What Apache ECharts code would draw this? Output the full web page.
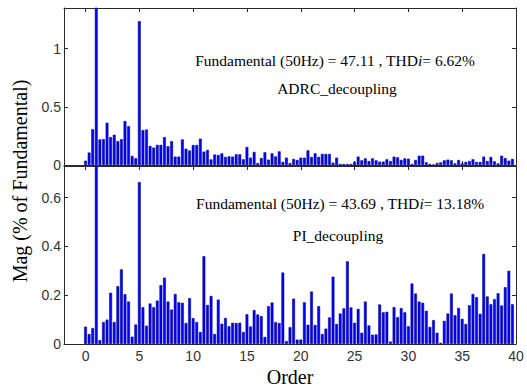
<!DOCTYPE html>
<html>
<head>
<meta charset="utf-8">
<script src="https://cdn.jsdelivr.net/npm/echarts@6/dist/echarts.min.js"></script>
<style>
html,body{margin:0;padding:0;background:#fff;}
#chart{width:527px;height:387px;}
</style>
</head>
<body>
<div id="chart"></div>
<script>
// harmonic orders (step 1/3 of the fundamental), 0 .. 39.67
const harmonicOrders = Array.from({length: 120}, (_, k) => k / 3);

// ADRC_decoupling spectrum, % of fundamental (fundamental = 100, clipped)
const adrcMag = [
  0.037, 0.107, 0.308, 100, 0.22, 0.222, 0.363, 0.24, 0.26, 0.205,
  0.222, 0.378, 0.334, 0.078, 0.058, 1.236, 0.30, 0.305, 0.164, 0.15,
  0.173, 0.173, 0.24, 0.161, 0.205, 0.072, 0.072, 0.22, 0.14, 0.125,
  0.172, 0.172, 0.226, 0.115, 0.13, 0.048, 0.09, 0.086, 0.10, 0.069,
  0.074, 0.072, 0.092, 0.092, 0.049, 0.155, 0.063, 0.112, 0.017, 0.06,
  0.109, 0.046, 0.10, 0.074, 0.117, 0.026, 0.063, 0.017, 0.052, 0.043,
  0.063, 0.063, 0.126, 0.069, 0.10, 0.07, 0.095, 0.095, 0.095, 0.02,
  0.063, 0.009, 0.009, 0.009, 0.009, 0.026, 0.072, 0.04, 0.057, 0.034,
  0.057, 0.04, 0.029, 0.029, 0.049, 0.034, 0.072, 0.066, 0.043, 0.057,
  0.054, 0.009, 0.043, 0.08, 0.08, 0.023, 0.009, 0.003, 0.017, 0.023,
  0.04, 0.046, 0.04, 0.014, 0.043, 0.014, 0.026, 0.034, 0.049, 0.026,
  0.026, 0.072, 0.034, 0.069, 0.032, 0.014, 0.08, 0.06, 0.037, 0.052
];

// PI_decoupling spectrum, % of fundamental
const piMag = [
  0.071, 0.041, 0.065, 100, 0.016, 0.09, 0.10, 0.21, 0.09, 0.237,
  0.306, 0.204, 0.174, 0.03, 0.08, 0.664, 0.151, 0.075, 0.166, 0.151,
  0.178, 0.241, 0.272, 0.174, 0.141, 0.205, 0.171, 0.169, 0.086, 0.188,
  0.106, 0.09, 0.049, 0.36, 0.16, 0.197, 0.041, 0.182, 0.083, 0.107,
  0.073, 0.087, 0.086, 0.087, 0.049, 0.122, 0.072, 0.139, 0.121, 0.114,
  0.029, 0.155, 0.17, 0.09, 0.086, 0.293, 0.012, 0.069, 0.186, 0.018,
  0.018, 0.171, 0.079, 0.215, 0.078, 0.155, 0.041, 0.063, 0.109, 0.276,
  0.082, 0.125, 0.146, 0.339, 0.15, 0.087, 0.144, 0.046, 0.174, 0.076,
  0.038, 0.039, 0.162, 0.13, 0.132, 0.01, 0.151, 0.11, 0.147, 0.13,
  0.073, 0.248, 0.207, 0.174, 0.169, 0.136, 0.07, 0.098, 0.046, 0.005,
  0.095, 0.125, 0.207, 0.118, 0.148, 0.103, 0.082, 0.159, 0.205, 0.192,
  0.124, 0.369, 0.195, 0.163, 0.184, 0.208, 0.158, 0.233, 0.30, 0.163
];

const xTicks = [0, 5, 10, 15, 20, 25, 30, 35, 40];
const topYTicks = [0, 0.5, 1];
const botYTicks = [0, 0.2, 0.4, 0.6];

const topInfo = ['Fundamental (50Hz) = 47.11 , THD', 'i', '= 6.62%'];
const topName = 'ADRC_decoupling';
const botInfo = ['Fundamental (50Hz) = 43.69 , THD', 'i', '= 13.18%'];
const botName = 'PI_decoupling';
const xName = 'Order';
const yName = 'Mag (% of Fundamental)';

const serif = '"Liberation Serif", "Times New Roman", serif';
const sans = '"Liberation Sans", Arial, sans-serif';
const axisCol = '#2a2a2a';

function xAx(grid, pos, labels) {
  return {
    type: 'value', gridIndex: grid, position: pos, min: -2, max: 40,
    axisLine: {show: true, onZero: false, lineStyle: {color: axisCol, width: 1}},
    axisTick: {show: true, inside: true, length: 4, customValues: xTicks, lineStyle: {color: axisCol}},
    axisLabel: labels ? {show: true, customValues: xTicks, color: '#333', fontFamily: sans, fontSize: 14, margin: 5} : {show: false},
    splitLine: {show: false}
  };
}
function yAx(grid, pos, max, ticks, labels) {
  return {
    type: 'value', gridIndex: grid, position: pos, min: 0, max: max,
    axisLine: {show: true, onZero: false, lineStyle: {color: axisCol, width: 1}},
    axisTick: {show: true, inside: true, length: 4, customValues: ticks, lineStyle: {color: axisCol}},
    axisLabel: labels ? {show: true, customValues: ticks, color: '#333', fontFamily: sans, fontSize: 14, margin: 3} : {show: false},
    splitLine: {show: false}
  };
}

const chart = echarts.init(document.getElementById('chart'), null, {renderer: 'svg'});

const barStyle = {color: '#0000f2', borderColor: '#00008c', borderWidth: 0.5};
const richI = {i: {fontStyle: 'italic', fontFamily: serif, fontSize: 15.5}};

chart.setOption({
  animation: false,
  backgroundColor: '#fff',
  grid: [
    {left: 64, top: 8, width: 452, height: 157, show: false, containLabel: false, outerBoundsMode: 'none'},
    {left: 64, top: 166, width: 452, height: 178, show: false, containLabel: false, outerBoundsMode: 'none'}
  ],
  xAxis: [
    xAx(0, 'bottom', false), xAx(0, 'top', false),
    Object.assign(xAx(1, 'bottom', true), {name: xName, nameLocation: 'middle', nameGap: 23,
      nameTextStyle: {fontFamily: serif, fontSize: 20, color: '#000'}}),
    xAx(1, 'top', false)
  ],
  yAxis: [
    yAx(0, 'left', 1.35, topYTicks, true), yAx(0, 'right', 1.35, topYTicks, false),
    yAx(1, 'left', 0.73, botYTicks, true), yAx(1, 'right', 0.73, botYTicks, false)
  ],
  series: [
    {type: 'bar', xAxisIndex: 0, yAxisIndex: 0, barWidth: 2.8, clip: true, itemStyle: barStyle,
     data: harmonicOrders.map((o, i) => [o, adrcMag[i]])},
    {type: 'bar', xAxisIndex: 2, yAxisIndex: 2, barWidth: 2.8, clip: true, itemStyle: barStyle,
     data: harmonicOrders.map((o, i) => [o, piMag[i]])}
  ],
  graphic: [
    {type: 'text', x: 20, y: 181, rotation: Math.PI / 2,
     style: {text: yName, x: 0, y: 0, align: 'center', verticalAlign: 'middle', font: '20px ' + serif, fill: '#000'}},
    {type: 'text', x: 335, y: 60,
     style: {text: topInfo[0] + '{i|' + topInfo[1] + '}' + topInfo[2], align: 'center', verticalAlign: 'middle',
       font: '15.5px ' + serif, fill: '#000', rich: richI}},
    {type: 'text', x: 337, y: 88,
     style: {text: topName, align: 'center', verticalAlign: 'middle', font: '15.5px ' + serif, fill: '#000'}},
    {type: 'text', x: 340, y: 203,
     style: {text: botInfo[0] + '{i|' + botInfo[1] + '}' + botInfo[2], align: 'center', verticalAlign: 'middle',
       font: '15.5px ' + serif, fill: '#000', rich: richI}},
    {type: 'text', x: 338, y: 235,
     style: {text: botName, align: 'center', verticalAlign: 'middle', font: '15.5px ' + serif, fill: '#000'}}
  ]
});
</script>
</body>
</html>
